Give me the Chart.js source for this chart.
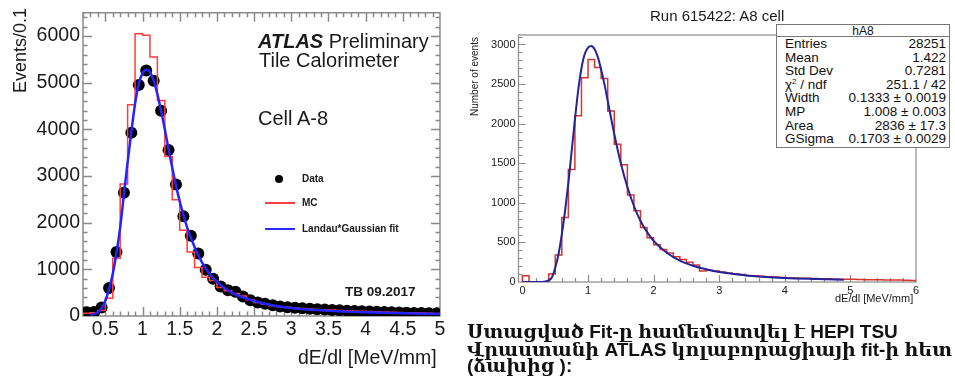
<!DOCTYPE html>
<html lang="hy">
<head>
<meta charset="UTF-8" />
<title>dE/dl A-8</title>
<script src="https://cdn.jsdelivr.net/npm/chart.js@4.4.1/dist/chart.umd.min.js"></script>
<style>
  body { margin: 0; width: 955px; height: 379px; background: #fff; position: relative; overflow: hidden;
         font-family: "Liberation Sans", Arial, sans-serif; }
  canvas { position: absolute; top: 0; }
  .t { position: absolute; white-space: nowrap; color: #1a1a1a; line-height: 1; }
  .rot { transform: rotate(-90deg); transform-origin: 0 0; }
  #stats { position: absolute; left: 776px; top: 24px; width: 174px; height: 124px; box-sizing: border-box;
           border: 1px solid #777; background: #fff; font-size: 13.5px; color: #111; }
  #stats .h { height: 11px; line-height: 13px; text-align: center; border-bottom: 1px solid #777; font-size: 12px; }
  #stats .r { display: flex; justify-content: space-between; height: 13.6px; line-height: 13.6px; padding: 0 3px 0 8px; }
  #stats .r:first-of-type { margin-top: 3px; }
  #stats sup { font-size: 8px; line-height: 0; vertical-align: 5px; }
  .hy { position: absolute; left: 467px; white-space: nowrap; font-weight: bold; font-size: 19px; line-height: 1;
        font-family: "Liberation Sans", "DejaVu Serif", "DejaVu Sans", sans-serif; color: #111; }
</style>
</head>
<body>
<canvas id="left" width="450" height="379" style="left:0"></canvas>
<canvas id="right" width="485" height="379" style="left:470px"></canvas>

<!-- left panel texts -->
<div class="t rot" style="left:11px; top:93px; font-size:18px;">Events/0.1</div>
<div class="t" style="left:298px; top:348px; font-size:19.5px;">dE/dl [MeV/mm]</div>
<div class="t" style="left:258px; top:31px; font-size:20px;"><b><i>ATLAS</i></b> Preliminary</div>
<div class="t" style="left:259px; top:50px; font-size:20px;">Tile Calorimeter</div>
<div class="t" style="left:258px; top:108px; font-size:20px;">Cell A-8</div>
<div class="t" style="left:345px; top:285px; font-size:13.5px; font-weight:bold;">TB 09.2017</div>
<div style="position:absolute; left:275px; top:175px; width:8px; height:8px; border-radius:50%; background:#000;"></div>
<div class="t" style="left:302px; top:174px; font-size:10px; font-weight:bold;">Data</div>
<div style="position:absolute; left:265px; top:202px; width:30px; height:1.5px; background:#ff4040;"></div>
<div class="t" style="left:302px; top:198px; font-size:10px; font-weight:bold;">MC</div>
<div style="position:absolute; left:265px; top:228px; width:30px; height:2px; background:#2a2aff;"></div>
<div class="t" style="left:302px; top:224px; font-size:10px; font-weight:bold;">Landau*Gaussian fit</div>

<!-- right panel texts -->
<div class="t" style="left:650px; top:8px; font-size:15px;">Run 615422: A8 cell</div>
<div class="t rot" style="left:470px; top:116px; font-size:10px;">Number of events</div>
<div class="t" style="left:835px; top:293px; font-size:11px;">dE/dl [MeV/mm]</div>
<div id="stats">
  <div class="h">hA8</div>
  <div class="r"><span>Entries</span><span>28251</span></div>
  <div class="r"><span>Mean</span><span>1.422</span></div>
  <div class="r"><span>Std Dev</span><span>0.7281</span></div>
  <div class="r"><span>&chi;<sup>2</sup> / ndf</span><span>251.1 / 42</span></div>
  <div class="r"><span>Width</span><span>0.1333 &plusmn; 0.0019</span></div>
  <div class="r"><span>MP</span><span>1.008 &plusmn; 0.003</span></div>
  <div class="r"><span>Area</span><span>2836 &plusmn; 17.3</span></div>
  <div class="r"><span>GSigma</span><span>0.1703 &plusmn; 0.0029</span></div>
</div>

<div class="hy" style="top:322px;">Ստացված Fit-ը համեմատվել է HEPI TSU</div>
<div class="hy" style="top:340px;">Վրաստանի ATLAS կոլաբորացիայի fit-ի հետ</div>
<div class="hy" style="top:356px;">(ձախից ):</div>

<script>
// ---- left: ATLAS Tile Calorimeter, cell A-8 (bins of 0.1 from 0.2) ----
const leftLo = 0.2, leftBin = 0.1;
const leftData = [80, 85, 180, 600, 1370, 2640, 3930, 4950, 5260, 5040,
  4400, 3560, 2820, 2140, 1720, 1340, 990, 800, 630, 550,
  520, 420, 340, 290, 260, 230, 205, 190, 175, 165,
  155, 145, 140, 130, 122, 115, 108, 100, 95, 90,
  85, 80, 75, 70, 66, 62, 58, 55];
const leftMC = [60, 70, 120, 380, 1240, 2830, 4530, 6050, 6020, 5550,
  4620, 3420, 2490, 1840, 1370, 1040, 830, 760, 610, 540,
  480, 430, 350, 290, 250, 220, 200, 185, 170, 160,
  150, 142, 135, 128, 120, 113, 107, 100, 95, 90,
  85, 80, 76, 72, 68, 64, 60, 56];
const leftFitX = [0.3, 0.4, 0.45, 0.5, 0.55, 0.6, 0.65, 0.7, 0.75, 0.8, 0.85, 0.9, 0.95, 1.0, 1.05, 1.1,
  1.15, 1.2, 1.25, 1.3, 1.35, 1.4, 1.45, 1.5, 1.6, 1.7, 1.8, 1.9, 2.0, 2.2, 2.4, 2.6, 2.8, 3.0, 3.5, 4.0, 4.5, 5.0];
const leftFitY = [20, 80, 170, 320, 580, 900, 1350, 1900, 2600, 3300, 3950, 4550, 4980, 5200, 5280, 5230,
  5040, 4760, 4400, 4000, 3580, 3180, 2800, 2460, 1900, 1480, 1150, 910, 730, 500, 370, 280, 215, 170, 110, 78, 58, 45];
const leftXTicks = [0.5, 1, 1.5, 2, 2.5, 3, 3.5, 4, 4.5, 5];
const leftYTicks = [0, 1000, 2000, 3000, 4000, 5000, 6000];

// ---- right: Run 615422, hA8 (bins of 0.1 from 0) ----
const rightLo = 0.0, rightBin = 0.1;
const rightHist = [80, 0, 0, 0, 100, 340, 815, 1420, 2100, 2580,
  2810, 2710, 2570, 2160, 1740, 1480, 1100, 900, 690, 560,
  470, 410, 365, 320, 285, 250, 215, 140, 150, 140,
  125, 115, 105, 95, 80, 78, 72, 66, 62, 58,
  55, 52, 48, 46, 44, 42, 40, 38, 36, 36,
  34, 32, 30, 28, 27, 26, 24, 24, 22, 20];
const rightFitX = [0, 0.3, 0.4, 0.45, 0.5, 0.55, 0.6, 0.65, 0.7, 0.75, 0.8, 0.85, 0.9, 0.95, 1.0, 1.05, 1.1,
  1.15, 1.2, 1.25, 1.3, 1.4, 1.5, 1.6, 1.7, 1.8, 1.9, 2.0, 2.2, 2.4, 2.6, 2.8, 3.0, 3.5, 4.0, 4.5, 4.9];
const rightFitY = [0, 0, 20, 60, 180, 350, 600, 900, 1250, 1650, 2050, 2420, 2700, 2880, 2960, 2980, 2940,
  2840, 2680, 2500, 2290, 1870, 1500, 1200, 960, 770, 630, 520, 370, 270, 205, 160, 125, 75, 50, 37, 28];
const rightXTicks = [0, 1, 2, 3, 4, 5, 6];
const rightYTicks = [0, 500, 1000, 1500, 2000, 2500, 3000];

const FONT = '"Liberation Sans", Arial, sans-serif';

function histSteps(lo, w, vals) {
  const pts = [{ x: lo, y: 0 }];
  vals.forEach((v, i) => pts.push({ x: lo + i * w, y: v }));
  pts.push({ x: lo + vals.length * w, y: vals[vals.length - 1] });
  pts.push({ x: lo + vals.length * w, y: 0 });
  return pts;
}

// ROOT-like frame with major/minor ticks
const frameTicks = {
  id: 'frameTicks',
  beforeDatasetsDraw(chart, args, o) {
    const { ctx, chartArea: a, scales: { x, y } } = chart;
    ctx.save();
    ctx.strokeStyle = o.color;
    ctx.lineWidth = o.lineWidth;
    ctx.strokeRect(a.left, a.top, a.right - a.left, a.bottom - a.top);
    ctx.beginPath();
    const mark = (v, len, horiz) => {
      if (horiz) {
        const px = Math.round(x.getPixelForValue(v)) + 0.5;
        if (px < a.left || px > a.right) return;
        ctx.moveTo(px, a.bottom); ctx.lineTo(px, a.bottom - len);
        if (o.allSides) { ctx.moveTo(px, a.top); ctx.lineTo(px, a.top + len); }
      } else {
        const py = Math.round(y.getPixelForValue(v)) + 0.5;
        if (py < a.top || py > a.bottom) return;
        ctx.moveTo(a.left, py); ctx.lineTo(a.left + len, py);
        if (o.allSides) { ctx.moveTo(a.right, py); ctx.lineTo(a.right - len, py); }
      }
    };
    for (let i = Math.ceil(x.min / o.xMinor); i * o.xMinor <= x.max + 1e-9; i++) {
      const v = i * o.xMinor;
      const major = Math.abs(v / o.xMajor - Math.round(v / o.xMajor)) < 1e-6;
      mark(v, major ? o.major : o.minor, true);
    }
    for (let i = 0; i * o.yMinor <= y.max; i++) {
      const v = i * o.yMinor;
      mark(v, v % o.yMajor === 0 ? o.major : o.minor, false);
    }
    ctx.stroke();
    ctx.restore();
  }
};

function axes(xr, yr) {
  return {
    x: {
      type: 'linear', min: xr.min, max: xr.max,
      grid: { display: false, drawTicks: false }, border: { display: false },
      afterBuildTicks: s => { s.ticks = xr.ticks.map(v => ({ value: v })); },
      afterFit: s => { s.height = xr.height; },
      ticks: { font: { family: FONT, size: xr.size, lineHeight: 1 }, color: '#1a1a1a', padding: xr.pad,
               maxRotation: 0, autoSkip: false, callback: v => String(v) }
    },
    y: {
      type: 'linear', min: 0, max: yr.max,
      grid: { display: false, drawTicks: false }, border: { display: false },
      afterBuildTicks: s => { s.ticks = yr.ticks.map(v => ({ value: v })); },
      afterFit: s => { s.width = yr.width; },
      ticks: { font: { family: FONT, size: yr.size, lineHeight: 1 }, color: '#1a1a1a', padding: yr.pad,
               autoSkip: false, callback: v => String(v) }
    }
  };
}

const common = {
  responsive: false, animation: false, devicePixelRatio: 1,
  events: [],
  elements: { line: { fill: false } }
};

new Chart(document.getElementById('left'), {
  type: 'line',
  data: {
    datasets: [
      { label: 'Landau*Gaussian fit', data: leftFitX.map((x, i) => ({ x, y: leftFitY[i] })),
        borderColor: '#2424ff', borderWidth: 2.5, pointRadius: 0, cubicInterpolationMode: 'monotone', order: 1 },
      { label: 'MC', data: histSteps(leftLo, leftBin, leftMC), stepped: true,
        borderColor: '#ff3c3c', borderWidth: 1.5, pointRadius: 0, order: 2 },
      { label: 'Data', data: leftData.map((v, i) => ({ x: leftLo + (i + 0.5) * leftBin, y: v })),
        showLine: false, pointRadius: 6, pointBackgroundColor: '#000', pointBorderWidth: 0, order: 3 }
    ]
  },
  options: {
    ...common,
    layout: { padding: { top: 10, right: 10, left: 0, bottom: 0 } },
    plugins: {
      legend: { display: false }, tooltip: { enabled: false },
      frameTicks: { color: '#8a8a8a', lineWidth: 1.5, allSides: true, xMajor: 0.5, xMinor: 0.1,
                    yMajor: 1000, yMinor: 200, major: 9, minor: 4.5 }
    },
    scales: axes({ min: 0.2, max: 5, ticks: leftXTicks, height: 63, size: 19.5, pad: 4 },
                 { max: 6500, ticks: leftYTicks, width: 83, size: 19.5, pad: 3 })
  },
  plugins: [frameTicks]
});

new Chart(document.getElementById('right'), {
  type: 'line',
  data: {
    datasets: [
      { label: 'fit', data: rightFitX.map((x, i) => ({ x, y: rightFitY[i] })),
        borderColor: '#23239a', borderWidth: 2, pointRadius: 0, cubicInterpolationMode: 'monotone', order: 1 },
      { label: 'hA8', data: histSteps(rightLo, rightBin, rightHist), stepped: true,
        borderColor: '#d8352c', borderWidth: 1.5, pointRadius: 0, order: 2 }
    ]
  },
  options: {
    ...common,
    layout: { padding: { top: 35, right: 39, left: 0, bottom: 0 } },
    plugins: {
      legend: { display: false }, tooltip: { enabled: false },
      frameTicks: { color: '#8a8a8a', lineWidth: 1.2, allSides: false, xMajor: 1, xMinor: 0.2,
                    yMajor: 500, yMinor: 100, major: 7, minor: 4 }
    },
    scales: axes({ min: -0.06, max: 6, ticks: rightXTicks, height: 97, size: 11, pad: 3 },
                 { max: 3120, ticks: rightYTicks, width: 48.5, size: 11, pad: 3 })
  },
  plugins: [frameTicks]
});
</script>
</body>
</html>
